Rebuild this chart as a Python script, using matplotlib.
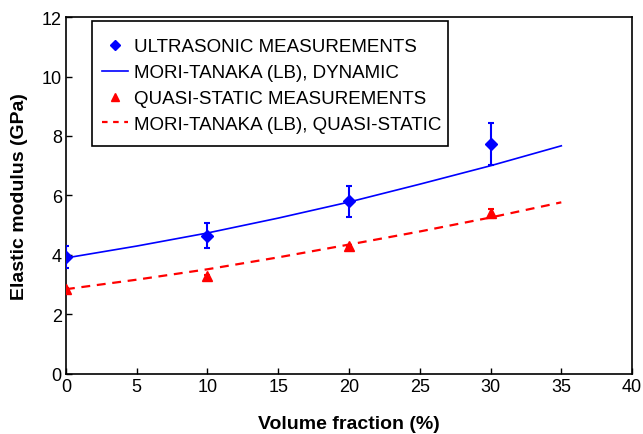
import matplotlib
matplotlib.use("Agg")
import matplotlib.pyplot as plt
from matplotlib.lines import Line2D
from matplotlib.patches import Rectangle

plt.rcParams['font.family'] = ['Liberation Sans', 'DejaVu Sans']

# Measurements
vf_meas = [0, 10, 20, 30]
ultra = [3.93, 4.65, 5.80, 7.72]
ultra_err = [0.36, 0.42, 0.52, 0.71]
quasi = [2.86, 3.28, 4.31, 5.40]
quasi_err = [0.04, 0.04, 0.04, 0.14]

# Mori-Tanaka lower bound curves
vf_mt = [0, 5, 10, 15, 20, 25, 30, 35]
mt_dyn = [3.90, 4.30, 4.74, 5.24, 5.78, 6.38, 7.00, 7.67]
mt_qs = [2.85, 3.17, 3.52, 3.92, 4.35, 4.79, 5.26, 5.77]

labels = ['ULTRASONIC MEASUREMENTS', 'MORI-TANAKA (LB), DYNAMIC',
          'QUASI-STATIC MEASUREMENTS', 'MORI-TANAKA (LB), QUASI-STATIC']

fig = plt.figure(figsize=(6.43, 4.35), dpi=100)
ax = fig.add_axes([0.1026, 0.138, 0.8804, 0.8206])

ax.errorbar(vf_meas, ultra, yerr=ultra_err, fmt='D', color='#0000FF', ms=6,
            capsize=2.5, elinewidth=1.5, capthick=1.5, zorder=4)
ax.plot(vf_mt, mt_dyn, '-', color='#0000FF', lw=1.2, zorder=3)
ax.errorbar(vf_meas, quasi, yerr=quasi_err, fmt='^', color='#FF0000', ms=7,
            capsize=2.5, elinewidth=1.5, capthick=1.5, zorder=4)
ax.plot(vf_mt, mt_qs, '--', color='#FF0000', lw=1.6, dashes=(4, 3), zorder=3)

ax.set_xlim(0, 40)
ax.set_ylim(0, 12)
ax.set_xticks(range(0, 41, 5))
ax.set_yticks(range(0, 13, 2))
ax.tick_params(direction='in', length=4, labelsize=13, width=1, pad=3)
for s in ax.spines.values():
    s.set_linewidth(1.2)

ax.set_xlabel('Volume fraction (%)', fontsize=14, fontweight='bold', labelpad=14)
ax.set_ylabel('Elastic modulus (GPa)', fontsize=14, fontweight='bold', labelpad=10)

# legend frame
ax.add_patch(Rectangle((0.0459, 0.6387), 0.6290, 0.3501, transform=ax.transAxes,
                       facecolor='white', edgecolor='black', lw=1.2, zorder=5))

handles = [Line2D([], [], ls='none', marker='D', color='#0000FF', ms=5),
           Line2D([], [], ls='-', color='#0000FF', lw=1.2),
           Line2D([], [], ls='none', marker='^', color='#FF0000', ms=6),
           Line2D([], [], ls='--', color='#FF0000', lw=1.6, dashes=(2.5, 2.5))]
leg = ax.legend(handles, labels, loc='upper left', bbox_to_anchor=(0.063, 0.941),
                fontsize=13.5, frameon=False, handlelength=1.4, handletextpad=0.3,
                labelspacing=0.47, borderpad=0, borderaxespad=0)
leg.set_zorder(6)

fig.savefig('out.png', dpi=100)
